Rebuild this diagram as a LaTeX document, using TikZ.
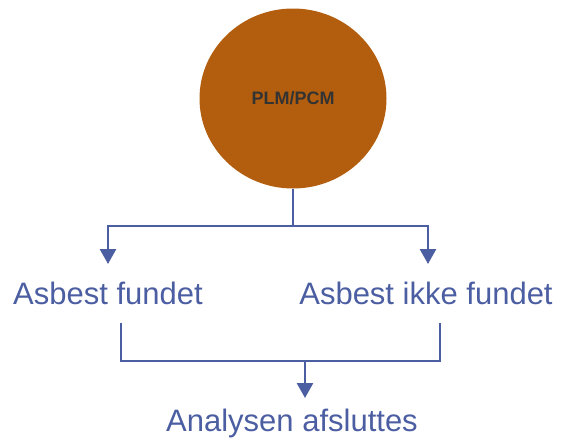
\documentclass[tikz,border=0pt]{standalone}
\usepackage{fontspec}
\setmainfont{Liberation Sans}
\usetikzlibrary{arrows.meta,shapes.geometric}
\definecolor{lineblue}{RGB}{76,94,162}
\definecolor{rust}{RGB}{179,94,14}
\definecolor{darktext}{RGB}{51,51,51}
\begin{document}
\begin{tikzpicture}[x=1pt,y=-1pt,
  conn/.style={draw=lineblue,line width=2.6pt},
  tipconn/.style={conn,-{Triangle[width=16pt,length=15pt]}},
  outcome/.style={text=lineblue,font=\fontsize{31}{36}\selectfont,inner sep=0pt,anchor=base}]
\useasboundingbox (0,0) rectangle (563,437);
\node[ellipse,fill=rust,minimum width=187pt,minimum height=180pt,inner sep=0pt,
  text=darktext,font=\fontsize{18}{20}\selectfont\bfseries] (plm) at (293,98.5) {PLM/PCM};
\node[outcome] (found) at (108,304) {Asbest fundet};
\node[outcome] (notfound) at (426,304) {Asbest ikke fundet};
\node[outcome] (done) at (292,431) {Analysen afsluttes};
\coordinate (split) at (293,226);
\coordinate (tipA) at (108,264);
\coordinate (tipB) at (428,264);
\coordinate (leftup) at (121,323);
\coordinate (rightup) at (440,323);
\coordinate (join) at (305,361);
\coordinate (tipC) at (305,398);
% branch
\draw[conn] (plm.south) -- (split);
\draw[tipconn] (split) -| (tipA);
\draw[tipconn] (split) -| (tipB);
% merge
\draw[conn] (leftup) |- (join) -| (rightup);
\draw[tipconn] (join) -- (tipC);
\end{tikzpicture}
\end{document}
